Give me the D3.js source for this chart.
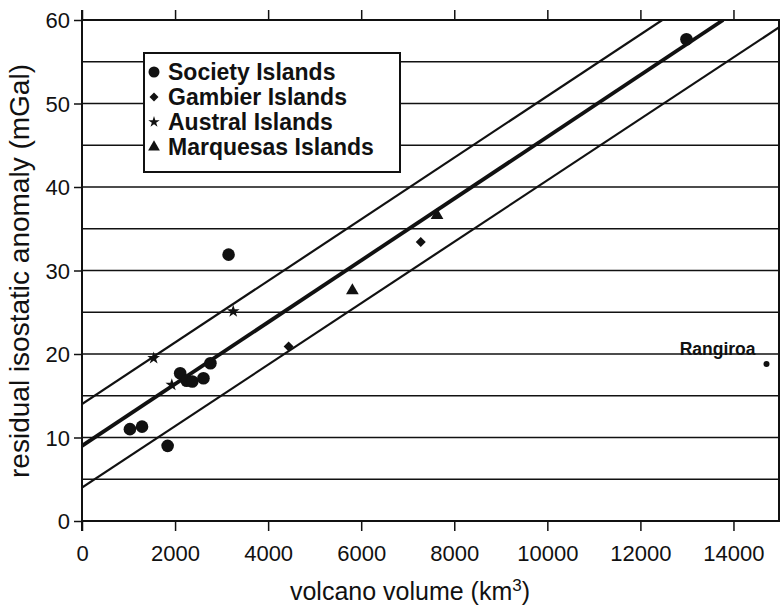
<!DOCTYPE html>
<html>
<head>
<meta charset="utf-8">
<script src="https://cdn.jsdelivr.net/npm/d3@7"></script>
<style>
  body { margin: 0; background: #fff; }
  svg { display: block; font-family: "Liberation Sans", Arial, Helvetica, sans-serif; }
</style>
</head>
<body>
<div id="chart"></div>
<script>
// values
var xTicks = [0, 2000, 4000, 6000, 8000, 10000, 12000, 14000];
var yTicks = [0, 10, 20, 30, 40, 50, 60];
var gridValues = [5, 10, 15, 20, 25, 30, 35, 40, 45, 50, 55];

var societyVol  = [1030, 1290, 1840, 2110, 2250, 2370, 2610, 2760, 3150, 12990];
var societyAnom = [11.0, 11.3, 9.0, 17.7, 16.8, 16.7, 17.1, 18.9, 31.9, 57.7];
var gambierVol  = [4440, 7280];
var gambierAnom = [20.9, 33.4];
var australVol  = [1540, 1930, 3250];
var australAnom = [19.5, 16.3, 25.1];
var marquesasVol  = [5810, 7630];
var marquesasAnom = [27.6, 36.6];
var rangiroaVol = 14710, rangiroaAnom = 18.8;

// fit line and +/- envelope, end points as read
var fitLine   = [[0, 9], [13780, 60]];
var upperLine = [[0, 14], [12470, 60]];
var lowerLine = [[0, 4], [15000, 59.2]];

var legendNames = ['Society Islands', 'Gambier Islands', 'Austral Islands', 'Marquesas Islands'];
var legendShapes = ['circle', 'diamond', 'star', 'triangle'];

var W = 781, H = 607;
var mLeft = 82, mRight = 780, mTop = 20, mBottom = 521;

var x = d3.scaleLinear().domain([0, 15000]).range([mLeft, mRight]);
var y = d3.scaleLinear().domain([0, 60]).range([mBottom, mTop]);

var svg = d3.select('#chart').append('svg')
  .attr('width', W)
  .attr('height', H);

svg.append('defs').append('clipPath').attr('id', 'plotclip')
  .append('rect')
    .attr('x', mLeft).attr('y', mTop)
    .attr('width', mRight - mLeft).attr('height', mBottom - mTop);

function translate(a, b) {
  return 'translate(' + a + ',' + b + ')';
}

// horizontal grid lines
svg.append('g').selectAll('line').data(gridValues).enter()
  .append('line')
    .attr('x1', mLeft).attr('x2', mRight)
    .attr('y1', function(d) { return y(d); })
    .attr('y2', function(d) { return y(d); })
    .attr('stroke', '#111')
    .attr('stroke-width', 1.6);

// axes
var xAxis = svg.append('g')
  .attr('transform', translate(0, mBottom))
  .call(d3.axisBottom(x).tickValues(xTicks).tickSize(10).tickFormat(d3.format('d')));
xAxis.selectAll('text')
  .attr('y', 40).attr('dy', null)
  .style('font-size', '22px');

svg.append('g')
  .attr('transform', translate(0, mTop))
  .call(d3.axisTop(x).tickValues(xTicks).tickSize(10).tickFormat(''));

var yAxis = svg.append('g')
  .attr('transform', translate(mLeft, 0))
  .call(d3.axisLeft(y).tickValues(yTicks).tickSize(8).tickPadding(4));
yAxis.selectAll('text')
  .attr('dy', '0.36em')
  .style('font-size', '22px');

svg.selectAll('.domain').remove();
svg.selectAll('.tick line').attr('stroke', '#111').attr('stroke-width', 1.5);
svg.selectAll('.tick text').attr('fill', '#111');

// frame
var frame = svg.append('g').attr('stroke', '#111').attr('stroke-width', 2);
frame.append('line').attr('x1', mLeft).attr('x2', mRight).attr('y1', y(60)).attr('y2', y(60));
frame.append('line').attr('x1', mLeft).attr('x2', mRight).attr('y1', y(0)).attr('y2', y(0));
frame.append('line').attr('x1', mLeft).attr('x2', mLeft).attr('y1', mTop - 10).attr('y2', mBottom + 10);
frame.append('line').attr('x1', mRight - 1).attr('x2', mRight - 1).attr('y1', mTop).attr('y2', mBottom);

// fit line and envelope
var line = d3.line()
  .x(function(d) { return x(d[0]); })
  .y(function(d) { return y(d[1]); });

var lines = svg.append('g').attr('clip-path', 'url(#plotclip)');
lines.append('path').datum(upperLine)
  .attr('d', line).attr('fill', 'none').attr('stroke', '#111').attr('stroke-width', 2.2);
lines.append('path').datum(lowerLine)
  .attr('d', line).attr('fill', 'none').attr('stroke', '#111').attr('stroke-width', 2.2);
lines.append('path').datum(fitLine)
  .attr('d', line).attr('fill', 'none').attr('stroke', '#111').attr('stroke-width', 3.8);

// symbols (diamond = square turned 45 degrees)
var symbolTypes = {
  circle: d3.symbolCircle,
  diamond: d3.symbolSquare,
  star: d3.symbolStar,
  triangle: d3.symbolTriangle
};
var symbolTurn = { circle: 0, diamond: 45, star: 0, triangle: 0 };
var symbolSizes = { circle: 125, diamond: 50, star: 50, triangle: 70 };

function drawGroup(vols, anoms, shape) {
  svg.append('g').selectAll('path').data(vols).enter()
    .append('path')
      .attr('d', d3.symbol().type(symbolTypes[shape]).size(symbolSizes[shape]))
      .attr('transform', function(d, i) {
        return translate(x(d), y(anoms[i])) + ' rotate(' + symbolTurn[shape] + ')';
      })
      .attr('fill', '#111');
}
drawGroup(societyVol, societyAnom, 'circle');
drawGroup(gambierVol, gambierAnom, 'diamond');
drawGroup(australVol, australAnom, 'star');
drawGroup(marquesasVol, marquesasAnom, 'triangle');

// Rangiroa
svg.append('circle')
  .attr('cx', x(rangiroaVol)).attr('cy', y(rangiroaAnom))
  .attr('r', 3).attr('fill', '#111');
svg.append('text')
  .attr('x', x(rangiroaVol) - 11)
  .attr('y', y(rangiroaAnom) - 9)
  .attr('text-anchor', 'end')
  .style('font-size', '17.5px')
  .style('font-weight', 'bold')
  .attr('fill', '#111')
  .text('Rangiroa');

// legend
var legend = svg.append('g').attr('transform', translate(144, 53));
legend.append('rect')
  .attr('width', 256).attr('height', 119)
  .attr('fill', '#fff').attr('stroke', '#111').attr('stroke-width', 2);
var legendSizes = { circle: 95, diamond: 40, star: 40, triangle: 60 };
var rows = legend.selectAll('g.row').data(legendNames).enter()
  .append('g')
    .attr('class', 'row')
    .attr('transform', function(d, i) { return translate(0, 19 + i * 25); });
rows.append('path')
  .attr('d', function(d, i) { return d3.symbol().type(symbolTypes[legendShapes[i]]).size(legendSizes[legendShapes[i]])(); })
  .attr('transform', function(d, i) { return translate(10, 0) + ' rotate(' + symbolTurn[legendShapes[i]] + ')'; })
  .attr('fill', '#111');
rows.append('text')
  .attr('x', 24)
  .attr('dy', '0.36em')
  .style('font-size', '23px')
  .style('font-weight', 'bold')
  .attr('fill', '#111')
  .text(function(d) { return d; });

// axis titles
var xt = svg.append('text')
  .attr('x', 410).attr('y', 600)
  .attr('text-anchor', 'middle')
  .style('font-size', '25px')
  .attr('fill', '#111');
xt.append('tspan').text('volcano volume (km');
xt.append('tspan').attr('dy', -9).style('font-size', '17px').text('3');
xt.append('tspan').attr('dy', 9).text(')');

svg.append('text')
  .attr('transform', translate(29, 271) + ' rotate(-90)')
  .attr('text-anchor', 'middle')
  .style('font-size', '28px')
  .attr('fill', '#111')
  .text('residual isostatic anomaly (mGal)');
</script>
</body>
</html>
